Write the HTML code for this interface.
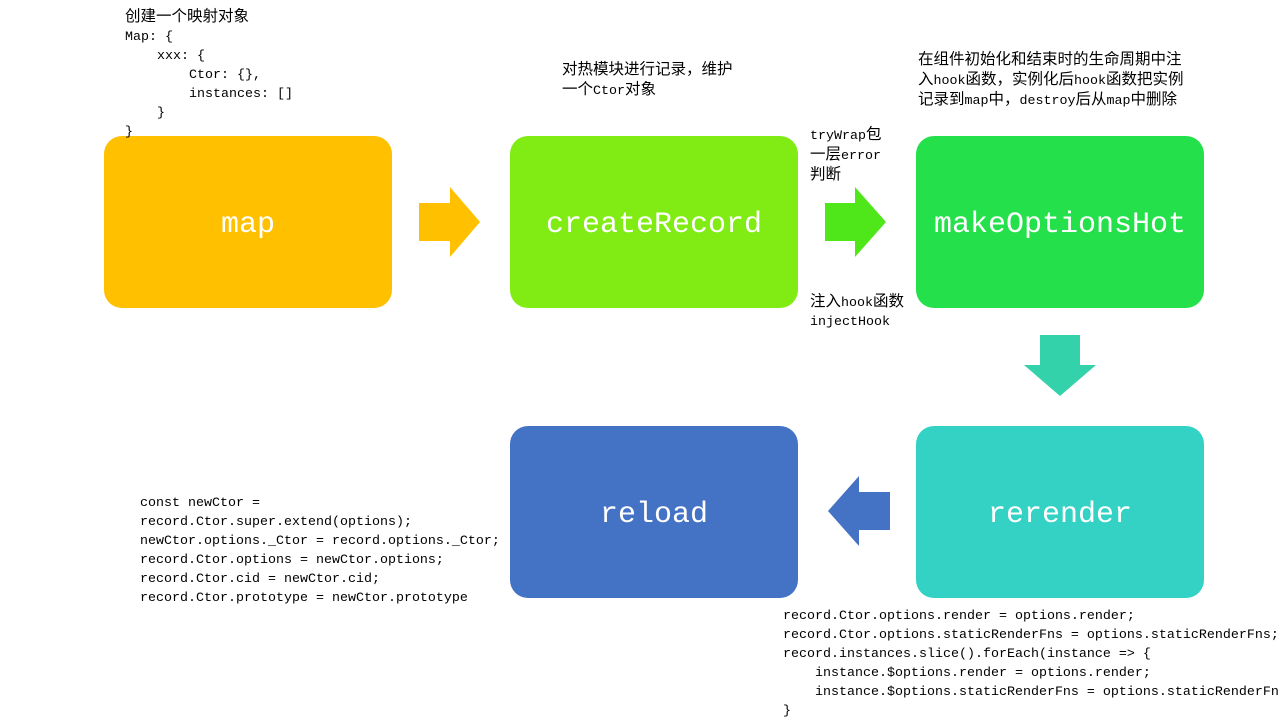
<!DOCTYPE html>
<html><head><meta charset="utf-8"><style>
body{margin:0;width:1280px;height:720px;background:#fff;position:relative;overflow:hidden;font-family:"Liberation Mono","Noto Sans CJK SC",monospace;}
.box{position:absolute;width:288px;height:172px;border-radius:18px;color:#fff;font-size:30px;display:flex;align-items:center;justify-content:center;box-sizing:border-box;padding-top:6px;}
.t{position:absolute;font-size:13.33px;line-height:19px;white-space:pre;color:#000;}
.t span{font-size:15.5px;}
svg{position:absolute;left:0;top:0}
</style></head><body>
<div class="box" style="left:104px;top:136px;background:#FFC000">map</div>
<div class="box" style="left:510px;top:136px;background:#80EC13">createRecord</div>
<div class="box" style="left:916px;top:136px;background:#24E04B">makeOptionsHot</div>
<div class="box" style="left:916px;top:426px;background:#33D2C4">rerender</div>
<div class="box" style="left:510px;top:426px;background:#4472C4">reload</div>
<svg width="1280" height="720">
<polygon points="419,203 450,203 450,187 480,222 450,257 450,241 419,241" fill="#FFC000"/>
<polygon points="825,203 855,203 855,187 886,222 855,257 855,241 825,241" fill="#4FE61A"/>
<polygon points="1040,335 1080,335 1080,365 1096,365 1060,396 1024,365 1040,365" fill="#33D2AA"/>
<polygon points="890,492 859,492 859,476 828,511 859,546 859,530 890,530" fill="#4472C4"/>
</svg>
<div class="t" style="left:125px;top:8px"><span>创建一个映射对象</span>
Map: {
    xxx: {
        Ctor: {},
        instances: []
    }
}</div>
<div class="t" style="left:562px;top:61px"><span>对热模块进行记录，维护</span>
<span>一个</span>Ctor<span>对象</span></div>
<div class="t" style="left:918px;top:51px"><span>在组件初始化和结束时的生命周期中注</span>
<span>入</span>hook<span>函数，实例化后</span>hook<span>函数把实例</span>
<span>记录到</span>map<span>中，</span>destroy<span>后从</span>map<span>中删除</span></div>
<div class="t" style="left:810px;top:126px">tryWrap<span>包</span>
<span>一层</span>error
<span>判断</span></div>
<div class="t" style="left:810px;top:293px"><span>注入</span>hook<span>函数</span>
injectHook</div>
<div class="t" style="left:140px;top:494px">const newCtor =
record.Ctor.super.extend(options);
newCtor.options._Ctor = record.options._Ctor;
record.Ctor.options = newCtor.options;
record.Ctor.cid = newCtor.cid;
record.Ctor.prototype = newCtor.prototype</div>
<div class="t" style="left:783px;top:607px">record.Ctor.options.render = options.render;
record.Ctor.options.staticRenderFns = options.staticRenderFns;
record.instances.slice().forEach(instance => {
    instance.$options.render = options.render;
    instance.$options.staticRenderFns = options.staticRenderFns;
}</div>
</body></html>
